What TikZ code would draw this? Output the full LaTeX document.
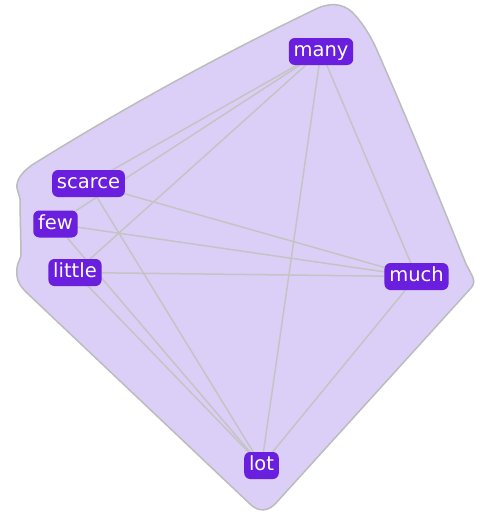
\documentclass[tikz,border=0pt]{standalone}
\usepackage{fontspec}
\setmainfont{DejaVu Sans}
\pgfdeclarelayer{hulllayer}
\pgfdeclarelayer{edgelayer}
\pgfsetlayers{hulllayer,edgelayer,main}
\definecolor{nodepurple}{RGB}{106,30,222}
\definecolor{hullfill}{RGB}{220,207,247}
\definecolor{hullline}{RGB}{188,188,188}
\definecolor{edgegray}{RGB}{196,196,196}
\tikzset{
  word/.style={fill=nodepurple, text=white, rounded corners=6pt,
    font=\fontsize{19.5}{21}\selectfont, inner xsep=4.8pt, inner ysep=0pt,
    text height=14.5pt, text depth=4.5pt, minimum height=27pt},
  link/.style={draw=edgegray, line width=1.5pt},
  hull/.style={fill=hullfill, draw=hullline, line width=1.5pt}
}
\begin{document}
\begin{tikzpicture}[x=1pt,y=-1pt]
\useasboundingbox (0,0) rectangle (477,514);
\node[word] (many) at (321,51.5) {many};
\node[word] (scarce) at (88.5,183.5) {scarce};
\node[word] (few) at (55.5,224) {few};
\node[word] (little) at (75,272.5) {little};
\node[word] (much) at (416.5,276.5) {much};
\node[word] (lot) at (261.5,465.5) {lot};
\begin{pgfonlayer}{hulllayer}
\path[hull] (318,8) .. controls (330,3) and (342,3) .. (352,12)
  .. controls (362,22) and (370,35) .. (376,48)
  .. controls (410,125) and (440,200) .. (466,264)
  .. controls (472,276) and (477,281) .. (471,288)
  -- (276,503)
  .. controls (268,512) and (258,512) .. (250,504)
  -- (26,292)
  .. controls (18,284) and (16,278) .. (17,268)
  .. controls (18,260) and (22,258) .. (21,252)
  -- (20,205)
  .. controls (21,197) and (18,194) .. (17,188)
  .. controls (16,180) and (22,172) .. (32,165)
  .. controls (120,110) and (220,55) .. cycle;
\end{pgfonlayer}
\begin{pgfonlayer}{edgelayer}
\foreach \a/\b in {many/scarce, many/few, many/little, many/much, many/lot,
  much/scarce, much/few, much/little, much/lot,
  lot/scarce, lot/few, lot/little}
  \draw[link] (\a.center) -- (\b.center);
\end{pgfonlayer}
\end{tikzpicture}
\end{document}
